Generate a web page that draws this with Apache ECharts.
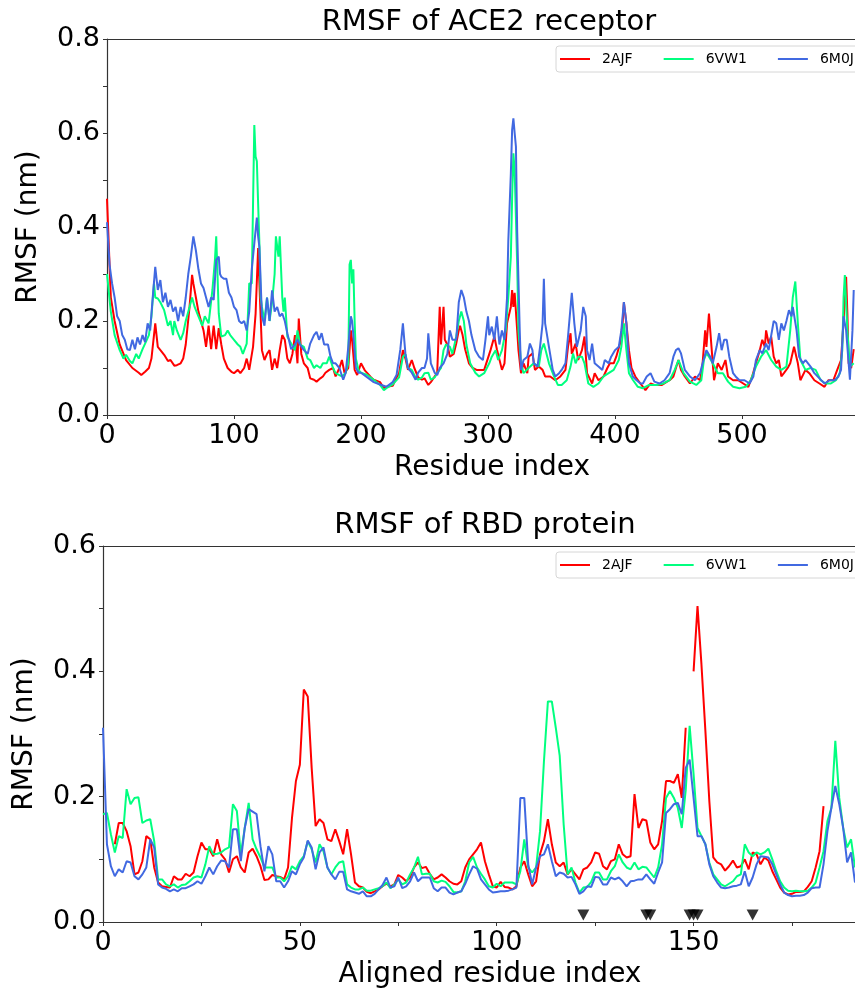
<!DOCTYPE html>
<html>
<head>
<meta charset="utf-8">
<script src="https://cdn.jsdelivr.net/npm/echarts@6/dist/echarts.min.js"></script>
<style>
html,body{margin:0;padding:0;background:#fff;}
#chart{width:855px;height:992px;}
</style>
</head>
<body>
<div id="chart"></div>
<script>
// ---------------- DATA ----------------
const seriesNames = ['2AJF', '6VW1', '6M0J'];
const seriesColors = ['#ff0000', '#00ff7f', '#4169e1'];
const topTitle = 'RMSF of ACE2 receptor';
const bottomTitle = 'RMSF of RBD protein';
const topXTicks = [0, 100, 200, 300, 400, 500];
const bottomXTicks = [0, 50, 100, 150];

// ACE2 receptor RMSF: [residue index, RMSF nm]
const ace2_2AJF = [[0,0.46],[3,0.25],[6,0.2],[10,0.15],[15,0.117],[20,0.1],[25,0.09],[27,0.085],[30,0.092],[33,0.1],[35,0.12],[38,0.195],[40,0.145],[43,0.135],[45,0.128],[48,0.115],[50,0.117],[53,0.105],[55,0.106],[58,0.11],[60,0.12],[62,0.15],[65,0.23],[67,0.298],[68,0.28],[70,0.25],[72,0.22],[74,0.2],[76,0.18],[78,0.145],[80,0.19],[82,0.14],[84,0.19],[86,0.14],[88,0.185],[90,0.15],[92,0.12],[95,0.1],[98,0.092],[100,0.089],[103,0.096],[105,0.089],[108,0.1],[110,0.12],[112,0.096],[115,0.145],[117,0.215],[119,0.355],[120,0.28],[122,0.138],[124,0.117],[126,0.13],[128,0.138],[130,0.096],[132,0.12],[134,0.1],[136,0.138],[138,0.17],[140,0.16],[142,0.12],[144,0.11],[146,0.13],[148,0.17],[150,0.11],[151,0.205],[153,0.13],[155,0.11],[158,0.1],[160,0.078],[163,0.075],[165,0.071],[168,0.078],[170,0.082],[172,0.09],[175,0.096],[178,0.1],[180,0.082],[183,0.1],[185,0.117],[187,0.09],[190,0.1],[192,0.18],[193,0.16],[195,0.096],[197,0.085],[200,0.11],[203,0.095],[205,0.089],[208,0.08],[210,0.075],[215,0.07],[218,0.057],[220,0.06],[225,0.062],[228,0.08],[230,0.089],[233,0.138],[235,0.12],[237,0.096],[240,0.117],[242,0.1],[245,0.08],[248,0.075],[250,0.078],[253,0.064],[255,0.07],[258,0.082],[260,0.089],[262,0.23],[263,0.15],[265,0.23],[266,0.16],[268,0.15],[270,0.124],[273,0.13],[275,0.152],[277,0.18],[278,0.19],[280,0.17],[282,0.14],[285,0.11],[288,0.1],[291,0.096],[294,0.096],[297,0.096],[302,0.138],[305,0.167],[307,0.14],[311,0.096],[313,0.11],[315,0.195],[318,0.23],[319,0.266],[320,0.23],[321,0.26],[323,0.18],[324,0.138],[326,0.089],[328,0.11],[331,0.089],[332,0.124],[335,0.131],[337,0.096],[340,0.103],[343,0.096],[345,0.082],[349,0.082],[353,0.074],[357,0.082],[361,0.096],[363,0.145],[365,0.174],[366,0.13],[369,0.152],[371,0.117],[374,0.138],[376,0.167],[378,0.089],[382,0.067],[384,0.089],[387,0.074],[391,0.082],[394,0.1],[396,0.11],[399,0.11],[401,0.124],[404,0.152],[406,0.195],[407,0.24],[409,0.195],[411,0.138],[413,0.1],[416,0.082],[420,0.067],[424,0.053],[428,0.067],[431,0.064],[437,0.064],[441,0.071],[443,0.074],[446,0.082],[448,0.1],[450,0.117],[452,0.096],[455,0.082],[459,0.067],[463,0.082],[467,0.074],[469,0.11],[471,0.18],[472,0.145],[474,0.216],[476,0.145],[478,0.074],[481,0.11],[484,0.096],[487,0.117],[489,0.082],[493,0.074],[497,0.074],[501,0.067],[505,0.06],[508,0.082],[511,0.11],[514,0.138],[516,0.16],[518,0.145],[519,0.18],[521,0.152],[523,0.167],[525,0.124],[527,0.11],[529,0.117],[531,0.082],[533,0.089],[536,0.1],[538,0.11],[541,0.145],[544,0.11],[546,0.074],[550,0.096],[553,0.089],[557,0.074],[561,0.067],[565,0.06],[568,0.074],[572,0.074],[575,0.096],[578,0.117],[580,0.2],[582,0.294],[583,0.216],[584,0.11],[586,0.1],[588,0.14]];

const ace2_6VW1 = [[0,0.3],[3,0.22],[6,0.17],[10,0.138],[13,0.12],[15,0.128],[18,0.115],[20,0.11],[23,0.13],[25,0.12],[28,0.14],[30,0.152],[33,0.17],[35,0.21],[37,0.28],[38,0.25],[40,0.248],[42,0.24],[45,0.223],[48,0.19],[50,0.2],[52,0.17],[53,0.2],[55,0.18],[58,0.16],[60,0.174],[62,0.2],[65,0.23],[67,0.25],[69,0.23],[72,0.21],[75,0.19],[77,0.21],[80,0.195],[83,0.266],[85,0.33],[86,0.38],[87,0.3],[88,0.216],[90,0.167],[93,0.17],[95,0.18],[97,0.17],[100,0.16],[103,0.15],[105,0.145],[107,0.13],[110,0.152],[112,0.28],[114,0.28],[115,0.45],[116,0.617],[117,0.55],[118,0.54],[119,0.45],[120,0.365],[121,0.25],[122,0.23],[124,0.2],[126,0.25],[128,0.2],[130,0.24],[132,0.3],[133,0.38],[135,0.337],[136,0.38],[138,0.25],[139,0.22],[140,0.25],[142,0.167],[145,0.152],[148,0.138],[150,0.18],[152,0.15],[155,0.145],[158,0.12],[160,0.117],[163,0.1],[165,0.106],[168,0.1],[170,0.11],[173,0.11],[175,0.124],[178,0.1],[180,0.089],[183,0.085],[185,0.082],[188,0.09],[190,0.11],[191,0.32],[192,0.33],[193,0.28],[194,0.31],[195,0.2],[196,0.12],[198,0.096],[200,0.09],[205,0.085],[210,0.075],[215,0.064],[218,0.053],[220,0.057],[225,0.065],[230,0.08],[233,0.124],[235,0.13],[237,0.1],[240,0.096],[243,0.08],[245,0.075],[248,0.08],[250,0.089],[253,0.09],[255,0.075],[258,0.08],[260,0.089],[263,0.1],[265,0.138],[267,0.15],[270,0.145],[272,0.13],[275,0.167],[277,0.2],[279,0.22],[281,0.2],[283,0.15],[286,0.11],[290,0.09],[293,0.082],[297,0.089],[301,0.11],[303,0.124],[306,0.138],[308,0.117],[311,0.138],[314,0.18],[316,0.25],[318,0.337],[319,0.46],[320,0.557],[321,0.52],[323,0.32],[324,0.18],[326,0.11],[328,0.089],[332,0.1],[336,0.11],[340,0.103],[342,0.138],[344,0.152],[348,0.11],[352,0.082],[355,0.064],[358,0.064],[362,0.074],[365,0.103],[367,0.131],[369,0.11],[371,0.124],[374,0.124],[376,0.11],[379,0.067],[383,0.06],[387,0.067],[391,0.082],[395,0.089],[399,0.096],[403,0.117],[405,0.145],[407,0.195],[409,0.138],[411,0.089],[414,0.075],[418,0.06],[422,0.057],[427,0.064],[433,0.064],[438,0.067],[443,0.074],[447,0.096],[450,0.117],[454,0.089],[459,0.071],[464,0.064],[468,0.074],[470,0.117],[472,0.131],[474,0.124],[477,0.11],[481,0.089],[485,0.089],[489,0.071],[493,0.06],[498,0.057],[503,0.06],[507,0.074],[511,0.103],[515,0.124],[519,0.138],[523,0.117],[527,0.103],[531,0.096],[535,0.103],[538,0.18],[540,0.25],[542,0.284],[544,0.195],[546,0.117],[550,0.096],[554,0.1],[558,0.096],[562,0.074],[566,0.067],[570,0.067],[574,0.074],[577,0.089],[579,0.138],[580,0.25],[581,0.298],[583,0.18],[585,0.103],[588,0.11]];

const ace2_6M0J = [[0,0.41],[2,0.32],[4,0.28],[6,0.25],[8,0.21],[10,0.2],[12,0.17],[14,0.16],[16,0.14],[18,0.138],[20,0.16],[22,0.14],[24,0.165],[26,0.15],[28,0.17],[30,0.155],[32,0.195],[34,0.18],[36,0.25],[38,0.315],[39,0.29],[40,0.266],[42,0.287],[44,0.24],[46,0.26],[48,0.23],[50,0.245],[52,0.22],[54,0.23],[56,0.2],[58,0.23],[60,0.21],[62,0.25],[64,0.3],[66,0.337],[68,0.38],[70,0.35],[72,0.31],[74,0.28],[76,0.27],[78,0.25],[80,0.23],[82,0.25],[84,0.245],[86,0.33],[88,0.337],[89,0.3],[90,0.294],[92,0.29],[94,0.29],[96,0.26],[98,0.25],[100,0.23],[102,0.223],[104,0.2],[106,0.195],[108,0.2],[110,0.18],[112,0.22],[114,0.31],[116,0.365],[118,0.42],[119,0.38],[120,0.357],[122,0.21],[124,0.19],[126,0.25],[128,0.2],[130,0.265],[132,0.22],[134,0.23],[136,0.21],[138,0.216],[140,0.2],[142,0.174],[145,0.14],[148,0.15],[150,0.16],[152,0.15],[155,0.138],[158,0.13],[160,0.152],[163,0.17],[165,0.177],[167,0.16],[169,0.174],[171,0.15],[174,0.15],[176,0.124],[178,0.11],[180,0.11],[183,0.1],[186,0.075],[188,0.09],[190,0.145],[192,0.21],[193,0.2],[194,0.17],[196,0.1],[198,0.09],[200,0.09],[205,0.08],[210,0.07],[215,0.065],[220,0.06],[225,0.07],[228,0.085],[231,0.14],[233,0.195],[235,0.13],[237,0.1],[240,0.09],[243,0.075],[245,0.09],[248,0.1],[250,0.1],[252,0.12],[253,0.174],[255,0.11],[258,0.09],[260,0.085],[262,0.1],[265,0.11],[268,0.13],[270,0.18],[272,0.16],[275,0.16],[277,0.24],[279,0.266],[281,0.25],[283,0.22],[285,0.2],[287,0.17],[290,0.138],[293,0.124],[296,0.117],[298,0.16],[300,0.21],[301,0.17],[303,0.188],[305,0.16],[307,0.21],[309,0.15],[311,0.18],[313,0.16],[315,0.25],[316,0.37],[318,0.514],[319,0.606],[320,0.631],[321,0.6],[322,0.571],[323,0.39],[325,0.18],[326,0.096],[328,0.117],[331,0.124],[333,0.152],[335,0.138],[336,0.11],[339,0.103],[341,0.145],[343,0.195],[344,0.29],[345,0.195],[348,0.145],[351,0.096],[353,0.082],[356,0.089],[358,0.096],[361,0.11],[363,0.167],[366,0.26],[368,0.195],[370,0.145],[373,0.18],[375,0.23],[377,0.21],[378,0.138],[380,0.117],[382,0.152],[384,0.11],[387,0.103],[390,0.096],[392,0.117],[395,0.11],[397,0.124],[400,0.138],[403,0.145],[405,0.18],[407,0.24],[409,0.195],[411,0.11],[414,0.082],[417,0.074],[420,0.067],[422,0.067],[425,0.082],[428,0.089],[431,0.071],[435,0.067],[439,0.074],[443,0.089],[446,0.124],[448,0.138],[450,0.142],[452,0.131],[455,0.096],[459,0.082],[463,0.074],[467,0.089],[469,0.11],[472,0.138],[475,0.124],[477,0.11],[480,0.145],[482,0.174],[484,0.138],[486,0.16],[488,0.16],[490,0.124],[493,0.089],[495,0.082],[498,0.074],[502,0.074],[506,0.067],[509,0.082],[511,0.117],[514,0.138],[516,0.131],[519,0.152],[521,0.138],[525,0.2],[527,0.195],[529,0.16],[531,0.195],[533,0.18],[535,0.2],[537,0.223],[539,0.21],[540,0.23],[543,0.18],[545,0.124],[548,0.11],[550,0.117],[552,0.11],[554,0.103],[557,0.089],[561,0.078],[565,0.067],[569,0.074],[573,0.074],[576,0.082],[578,0.096],[580,0.21],[582,0.18],[584,0.11],[585,0.075],[587,0.18],[588,0.266]];

// RBD protein RMSF, one value per aligned residue index 0..191 (null = gap)
const rbd_2AJF = [null,null,null,0.124,0.158,0.158,0.145,0.121,0.076,0.079,0.097,0.137,0.132,0.087,0.063,0.057,0.056,0.055,0.073,0.068,0.068,0.077,0.073,0.079,0.105,0.127,0.116,0.116,0.105,0.132,0.108,0.1,0.079,0.1,0.105,0.087,0.079,0.111,0.117,0.105,0.089,0.067,0.068,0.075,0.073,0.072,0.068,0.087,0.166,0.225,0.251,0.371,0.36,0.246,0.153,0.164,0.158,0.132,0.129,0.148,0.129,0.108,0.148,0.108,0.063,0.057,0.055,0.048,0.046,0.049,0.052,0.057,0.061,0.057,0.06,0.075,0.071,0.065,0.071,0.087,0.095,0.086,0.088,0.077,0.068,0.071,0.076,0.071,0.065,0.061,0.06,0.065,0.087,0.1,0.108,0.116,0.127,0.097,0.076,0.057,0.055,0.064,0.056,0.055,0.052,0.057,0.087,0.097,0.076,0.057,0.065,0.108,0.129,0.164,0.124,0.095,0.089,0.095,0.076,0.084,0.076,0.068,0.084,0.087,0.095,0.111,0.109,0.089,0.084,0.097,0.1,0.124,0.108,0.103,0.105,0.204,0.15,0.164,0.162,0.127,0.116,0.124,0.161,0.225,0.225,0.222,0.236,0.198,0.31,null,0.4,0.504,0.411,0.305,0.193,0.103,0.095,0.092,0.082,0.089,0.098,0.087,0.089,0.1,0.084,0.111,0.108,0.092,0.103,0.098,0.081,0.068,0.055,0.047,0.044,0.045,0.048,0.048,0.049,0.056,0.065,0.087,0.113,0.185,null,null,null,null,null,null,null,null];

const rbd_6VW1 = [0.172,0.174,0.14,0.111,0.137,0.134,0.212,0.188,0.198,0.199,0.158,0.162,0.164,0.129,0.068,0.068,0.06,0.057,0.06,0.055,0.059,0.06,0.065,0.071,0.073,0.071,0.092,0.121,0.108,0.109,0.111,0.116,0.119,0.188,0.177,0.108,0.15,0.19,0.132,0.116,0.103,0.087,0.087,0.087,0.071,0.071,0.065,0.073,0.089,0.084,0.097,0.105,0.129,0.116,0.095,0.124,0.113,0.087,0.076,0.087,0.095,0.097,0.06,0.055,0.052,0.052,0.055,0.05,0.05,0.052,0.054,0.057,0.063,0.054,0.06,0.068,0.06,0.063,0.076,0.087,0.104,0.076,0.077,0.077,0.065,0.063,0.066,0.064,0.057,0.048,0.047,0.049,0.065,0.095,0.104,0.087,0.077,0.068,0.057,0.055,0.061,0.057,0.063,0.063,0.063,0.06,0.081,0.132,0.087,0.079,0.087,0.145,0.257,0.352,0.352,0.31,0.265,0.156,0.076,0.087,0.063,0.047,0.055,0.056,0.064,0.079,0.079,0.068,0.068,0.081,0.089,0.108,0.095,0.087,0.084,0.095,0.084,0.088,0.087,0.079,0.071,0.087,0.124,0.198,0.209,0.198,0.182,0.15,0.21,0.313,0.236,0.15,0.137,0.124,0.095,0.076,0.068,0.06,0.057,0.061,0.065,0.073,0.076,0.124,0.111,0.105,0.111,0.108,0.111,0.117,0.1,0.081,0.065,0.055,0.05,0.049,0.05,0.049,0.049,0.05,0.055,0.063,0.087,0.113,0.161,0.182,0.289,0.198,0.15,0.119,0.132,0.087];

const rbd_6M0J = [0.31,0.124,0.089,0.073,0.084,0.079,0.097,0.095,0.073,0.068,0.076,0.087,0.132,0.119,0.06,0.055,0.053,0.049,0.052,0.049,0.054,0.054,0.057,0.06,0.065,0.061,0.073,0.087,0.076,0.089,0.098,0.097,0.087,0.148,0.148,0.097,0.15,0.18,0.176,0.172,0.121,0.081,0.121,0.108,0.065,0.065,0.055,0.065,0.081,0.076,0.092,0.103,0.13,0.119,0.084,0.111,0.119,0.087,0.076,0.068,0.08,0.08,0.052,0.049,0.047,0.045,0.049,0.041,0.041,0.045,0.052,0.059,0.071,0.055,0.057,0.071,0.054,0.057,0.065,0.079,0.065,0.071,0.071,0.071,0.054,0.049,0.055,0.055,0.047,0.044,0.047,0.049,0.061,0.076,0.089,0.085,0.068,0.06,0.052,0.047,0.048,0.049,0.049,0.05,0.052,0.055,0.198,0.198,0.092,0.06,0.087,0.105,0.108,0.124,0.097,0.073,0.079,0.077,0.071,0.072,0.06,0.045,0.049,0.057,0.056,0.072,0.071,0.06,0.06,0.071,0.068,0.071,0.065,0.057,0.065,0.066,0.068,0.068,0.076,0.068,0.061,0.079,0.095,0.174,0.18,0.188,0.19,0.172,0.246,0.259,0.198,0.137,0.137,0.124,0.092,0.073,0.063,0.055,0.054,0.055,0.057,0.058,0.06,0.081,0.057,0.071,0.092,0.105,0.104,0.103,0.092,0.076,0.06,0.047,0.043,0.041,0.042,0.042,0.043,0.047,0.054,0.055,0.055,0.092,0.145,0.182,0.217,0.188,0.15,0.095,0.111,0.063];

// interface residue markers (aligned residue index) and their RMSF level
const markerResidues = [122, 138, 139, 149, 150, 151, 165];
const markerLevel = 0.011;

// ---------------- CHART ----------------
const FONT = 'DejaVu Sans';
const AXIS_COLOR = '#333';
const chart = echarts.init(document.getElementById('chart'), null, {renderer: 'canvas'});

function yLabel(v) {
  const k = Math.round(v * 10);
  return (k % 2 === 0) ? (k / 10).toFixed(1) : '';
}
function makeXAxis(gridIndex, max, interval, ticks, name) {
  return {
    type: 'value', gridIndex, min: 0, max, interval,
    name, nameLocation: 'middle', nameGap: 39,
    nameTextStyle: {fontFamily: FONT, fontSize: 28, color: '#000', padding: [0, 0, 0, 22]},
    axisLine: {show: true, onZero: false, lineStyle: {color: AXIS_COLOR, width: 1.2}},
    axisTick: {show: true, inside: false, length: 4, lineStyle: {color: AXIS_COLOR, width: 1}},
    axisLabel: {
      show: true, margin: 7, fontFamily: FONT, fontSize: 27, color: '#000', showMaxLabel: false,
      formatter: v => (ticks.indexOf(v) >= 0 ? String(v) : '')
    },
    splitLine: {show: false}
  };
}
function makeTopAxis(gridIndex, max) {
  return {
    type: 'value', gridIndex, min: 0, max, position: 'top',
    axisLine: {show: true, onZero: false, lineStyle: {color: AXIS_COLOR, width: 1.2}},
    axisTick: {show: false}, axisLabel: {show: false}, splitLine: {show: false}
  };
}
function makeYAxis(gridIndex, max) {
  return {
    type: 'value', gridIndex, min: 0, max, interval: 0.1,
    name: 'RMSF (nm)', nameLocation: 'middle', nameGap: 64, nameRotate: 90,
    nameTextStyle: {fontFamily: FONT, fontSize: 28, color: '#000'},
    axisLine: {show: true, onZero: false, lineStyle: {color: AXIS_COLOR, width: 1.2}},
    axisTick: {show: true, inside: false, length: 4, lineStyle: {color: AXIS_COLOR, width: 1}},
    axisLabel: {show: true, margin: 7, fontFamily: FONT, fontSize: 27, color: '#000', formatter: yLabel},
    splitLine: {show: false}
  };
}
function makeLegend(top) {
  return {
    left: 556, top, width: 330, data: seriesNames, icon: 'rect', itemWidth: 30, itemHeight: 2, itemGap: 31,
    orient: 'horizontal', padding: [6, 30, 6, 4],
    borderColor: '#d6d6d6', borderWidth: 1, borderRadius: 3, backgroundColor: 'rgba(255,255,255,0.85)',
    textStyle: {fontFamily: FONT, fontSize: 14, color: '#000', padding: [0, 0, 0, 7]},
    selectedMode: false
  };
}

const topData = [ace2_2AJF, ace2_6VW1, ace2_6M0J];
const botData = [rbd_2AJF, rbd_6VW1, rbd_6M0J];

const series = [];
seriesNames.forEach((name, i) => {
  series.push({
    name, type: 'line', xAxisIndex: 0, yAxisIndex: 0, data: topData[i],
    showSymbol: false, symbol: 'none', lineStyle: {color: seriesColors[i], width: 2},
    itemStyle: {color: seriesColors[i]}, animation: false, z: 2 + i
  });
});
seriesNames.forEach((name, i) => {
  series.push({
    name, type: 'line', xAxisIndex: 2, yAxisIndex: 1, data: botData[i].map((v, k) => [k, v]),
    showSymbol: false, symbol: 'none', connectNulls: false,
    lineStyle: {color: seriesColors[i], width: 2}, itemStyle: {color: seriesColors[i]}, animation: false, z: 2 + i
  });
});
series.push({
  name: 'markers', type: 'scatter', xAxisIndex: 2, yAxisIndex: 1,
  data: markerResidues.map(r => [r, markerLevel]),
  symbol: 'triangle', symbolRotate: 180, symbolSize: [12, 11],
  itemStyle: {color: '#000'}, animation: false, z: 10
});

const option = {
  backgroundColor: '#fff',
  animation: false,
  title: [
    {text: topTitle, left: 484, top: 3, textAlign: 'center',
     textStyle: {fontFamily: FONT, fontSize: 29, fontWeight: 'normal', color: '#000'}},
    {text: bottomTitle, left: 480, top: 506, textAlign: 'center',
     textStyle: {fontFamily: FONT, fontSize: 29, fontWeight: 'normal', color: '#000'}}
  ],
  legend: [makeLegend(46), makeLegend(552)],
  grid: [
    {left: 107, top: 39, right: 0, height: 376, containLabel: false},
    {left: 103, top: 546, right: 0, height: 376, containLabel: false}
  ],
  xAxis: [
    makeXAxis(0, 589, 100, topXTicks, 'Residue index'),
    makeTopAxis(0, 589),
    makeXAxis(1, 191, 25, bottomXTicks, 'Aligned residue index'),
    makeTopAxis(1, 191)
  ],
  yAxis: [makeYAxis(0, 0.8), makeYAxis(1, 0.6)],
  series
};
chart.setOption(option);
</script>
</body>
</html>
